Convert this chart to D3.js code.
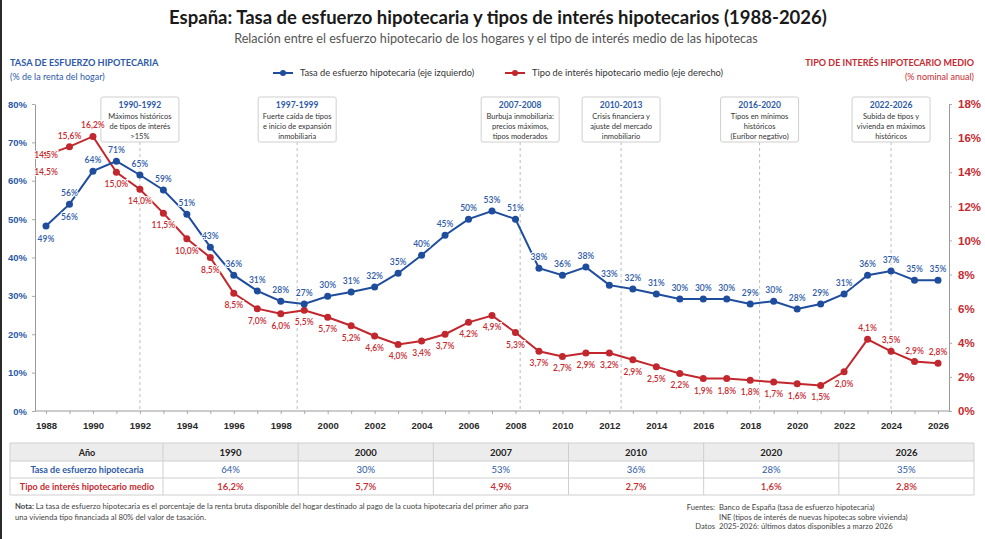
<!DOCTYPE html>
<html>
<head>
<meta charset="utf-8">
<script src="https://cdn.jsdelivr.net/npm/d3@7"></script>
<style>
  body { margin: 0; background: #fff; }
  svg { display: block; font-family: Lato, "Open Sans", sans-serif; }
</style>
</head>
<body>
<div id="chart"></div>
<script>
////////////////////////////////////////////////////////////////////////
// Data

const years = d3.range(1988, 2027);

// mortgage effort rate (% of household income), left axis
const effort = [48.2, 53.9, 62.5, 65.1, 61.5, 57.6, 51.3, 42.7, 35.4, 31.3,
                28.6, 27.9, 29.9, 31.0, 32.3, 35.9, 40.6, 45.8, 50.0, 52.1,
                50.0, 37.2, 35.4, 37.5, 32.8, 31.8, 30.5, 29.2, 29.2, 29.2,
                27.9, 28.6, 26.6, 27.9, 30.5, 35.4, 36.5, 34.1, 34.1];
const effortLabels = ["49%","56%","64%","71%","65%","59%","51%","43%","36%","31%",
                      "28%","27%","30%","31%","32%","35%","40%","45%","50%","53%",
                      "51%","38%","36%","38%","33%","32%","31%","30%","30%","30%",
                      "29%","30%","28%","29%","31%","36%","37%","35%","35%"];

// average mortgage interest rate (% nominal), right axis
const rate = [15.0, 15.5, 16.1, 14.0, 13.0, 11.6, 10.1, 9.0, 6.9, 6.0,
              5.7, 5.9, 5.5, 5.0, 4.4, 3.9, 4.1, 4.5, 5.2, 5.6,
              4.6, 3.5, 3.2, 3.4, 3.4, 3.0, 2.6, 2.2, 1.9, 1.9,
              1.8, 1.7, 1.6, 1.5, 2.3, 4.2, 3.5, 2.9, 2.8];
const rateLabels = ["14,5%","15,6%","16,2%","15,0%","14,0%","11,5%","10,0%","8,5%","8,5%","7,0%",
                    "6,0%","5,5%","5,7%","5,2%","4,6%","4,0%","3,4%","3,7%","4,2%","4,9%",
                    "5,3%","3,7%","2,7%","2,9%","3,2%","2,9%","2,5%","2,2%","1,9%","1,8%",
                    "1,8%","1,7%","1,6%","1,5%","2,0%","4,1%","3,5%","2,9%","2,8%"];

const leftTicks = [0, 10, 20, 30, 40, 50, 60, 70, 80];
const rightTicks = [0, 2, 4, 6, 8, 10, 12, 14, 16, 18];

// annotated periods
const eventPeriods = ["1990-1992", "1997-1999", "2007-2008", "2010-2013", "2016-2020", "2022-2026"];
const eventYears = [1992, 1998.7, 2008.2, 2012.5, 2018.4, 2024];
const eventTexts = [
  ["Máximos históricos", "de tipos de interés", ">15%"],
  ["Fuerte caída de tipos", "e inicio de expansión", "inmobiliaria"],
  ["Burbuja inmobiliaria:", "precios máximos,", "tipos moderados"],
  ["Crisis financiera y", "ajuste del mercado", "inmobiliario"],
  ["Tipos en mínimos", "históricos", "(Euríbor negativo)"],
  ["Subida de tipos y", "vivienda en máximos", "históricos"]
];

// summary table
const tableYears = ["1990", "2000", "2007", "2010", "2020", "2026"];
const tableEffort = ["64%", "30%", "53%", "36%", "28%", "35%"];
const tableRate = ["16,2%", "5,7%", "4,9%", "2,7%", "1,6%", "2,8%"];

////////////////////////////////////////////////////////////////////////
// Setup

const width = 985, height = 539;
const blue = "#1f4d9e", blueText = "#2d5aa8";
const red = "#c1272d", redText = "#c62a30";

let svg = d3.select("#chart").append("svg")
  .attr("width", width).attr("height", height);

svg.append("rect").attr("width", width).attr("height", height).attr("fill", "#fff");
svg.append("rect").attr("width", 2).attr("height", height).attr("fill", "#2a2a2a");

// titles
svg.append("text")
  .attr("x", 498).attr("y", 24)
  .attr("text-anchor", "middle")
  .attr("font-size", 18.5).attr("font-weight", 700).attr("fill", "#1a1a1a")
  .text("España: Tasa de esfuerzo hipotecaria y tipos de interés hipotecarios (1988-2026)");

svg.append("text")
  .attr("x", 496).attr("y", 43)
  .attr("text-anchor", "middle")
  .attr("font-size", 12.6).attr("fill", "#555")
  .text("Relación entre el esfuerzo hipotecario de los hogares y el tipo de interés medio de las hipotecas");

// axis titles
svg.append("text").attr("x", 10).attr("y", 66)
  .attr("font-size", 9.2).attr("font-weight", 700).attr("fill", blueText)
  .text("TASA DE ESFUERZO HIPOTECARIA");
svg.append("text").attr("x", 10).attr("y", 80)
  .attr("font-size", 9).attr("fill", blueText)
  .text("(% de la renta del hogar)");

svg.append("text").attr("x", 974).attr("y", 66).attr("text-anchor", "end")
  .attr("font-size", 9).attr("font-weight", 700).attr("fill", redText)
  .text("TIPO DE INTERÉS HIPOTECARIO MEDIO");
svg.append("text").attr("x", 974).attr("y", 80).attr("text-anchor", "end")
  .attr("font-size", 9).attr("fill", redText)
  .text("(% nominal anual)");

// legend
function legendItem(x0, color, label) {
  let g = svg.append("g").attr("transform", `translate(${x0}, 73)`);
  g.append("line").attr("x1", 0).attr("x2", 20).attr("stroke", color).attr("stroke-width", 2);
  g.append("circle").attr("cx", 10).attr("r", 3).attr("fill", color);
  g.append("text").attr("x", 27).attr("y", 3)
    .attr("font-size", 9.3).attr("fill", "#333").text(label);
}
legendItem(273, blue, "Tasa de esfuerzo hipotecaria (eje izquierdo)");
legendItem(505, red, "Tipo de interés hipotecario medio (eje derecho)");

////////////////////////////////////////////////////////////////////////
// Scales and axes

let xScale = d3.scaleLinear().domain([1988, 2026]).range([46, 938]);
let yLeft = d3.scaleLinear().domain([0, 80]).range([411, 104]);
let yRight = d3.scaleLinear().domain([0, 18]).range([411, 104]);

let leftAxis = svg.append("g")
  .attr("transform", "translate(35, 0)")
  .call(d3.axisLeft(yLeft).tickValues(leftTicks).tickFormat(d => d + "%")
          .tickSize(3).tickSizeOuter(0).tickPadding(5));
leftAxis.selectAll("text")
  .attr("font-size", 9.5).attr("font-weight", 700).attr("fill", blueText);

let rightAxis = svg.append("g")
  .attr("transform", "translate(949, 0)")
  .call(d3.axisRight(yRight).tickValues(rightTicks).tickFormat(d => d + "%")
          .tickSize(3).tickSizeOuter(0).tickPadding(6));
rightAxis.selectAll("text")
  .attr("font-size", 11.5).attr("font-weight", 600).attr("fill", redText);

let xAxis = svg.append("g")
  .attr("transform", "translate(0, 411)")
  .call(d3.axisBottom(xScale).tickValues(years)
          .tickFormat(d => d % 2 === 0 ? d : "")
          .tickSize(3).tickSizeOuter(0).tickPadding(8));
xAxis.select(".domain").remove();
xAxis.selectAll("text")
  .attr("font-size", 9.5).attr("font-weight", 700).attr("fill", "#2a2a2a");

svg.append("line")
  .attr("x1", 35).attr("x2", 949).attr("y1", 411).attr("y2", 411)
  .attr("stroke", "#999");

svg.selectAll(".domain").attr("stroke", "#999");
svg.selectAll(".tick line").attr("stroke", "#aaa");

////////////////////////////////////////////////////////////////////////
// Annotations (dashed guides + boxes)

let ann = svg.append("g");
eventPeriods.forEach((p, i) => {
  let cx = xScale(eventYears[i]);
  ann.append("line")
    .attr("x1", cx).attr("x2", cx).attr("y1", 142).attr("y2", 411)
    .attr("stroke", "#bdbdbd").attr("stroke-dasharray", "3,3");
  ann.append("rect")
    .attr("x", cx - 39).attr("y", 97).attr("width", 78).attr("height", 45)
    .attr("rx", 2).attr("fill", "#fff")
    .attr("stroke", "#cfcfcf");
  ann.append("text")
    .attr("x", cx).attr("y", 108).attr("text-anchor", "middle")
    .attr("font-size", 8.5).attr("font-weight", 700).attr("fill", blueText)
    .text(p);
  eventTexts[i].forEach((t, j) => {
    ann.append("text")
      .attr("x", cx).attr("y", 119 + j * 10).attr("text-anchor", "middle")
      .attr("font-size", 7.5).attr("fill", "#333")
      .text(t);
  });
});

////////////////////////////////////////////////////////////////////////
// Lines and points

function drawSeries(values, yScale, color) {
  let line = d3.line()
    .x((d, i) => xScale(years[i]))
    .y(d => yScale(d));
  svg.append("path")
    .datum(values)
    .attr("d", line)
    .attr("fill", "none")
    .attr("stroke", color)
    .attr("stroke-width", 2);
  svg.append("g")
    .selectAll("circle")
    .data(values)
    .enter()
    .append("circle")
    .attr("cx", (d, i) => xScale(years[i]))
    .attr("cy", d => yScale(d))
    .attr("r", 3.5)
    .attr("fill", color);
}

drawSeries(rate, yRight, red);
drawSeries(effort, yLeft, blue);

// value labels
function addLabel(x, y, text, color) {
  svg.append("text")
    .attr("x", x).attr("y", y)
    .attr("text-anchor", "middle")
    .attr("font-size", 8.5).attr("font-weight", 600)
    .attr("fill", color)
    .attr("stroke", "#fff").attr("stroke-width", 2).attr("paint-order", "stroke")
    .text(text);
}

effortLabels.forEach((t, i) => {
  let px = xScale(years[i]), py = yLeft(effort[i]);
  if (i === 0) {
    addLabel(px, py + 16, t, blueText);
  } else if (i === 1) {
    addLabel(px, py - 8, t, blueText);
    addLabel(px, py + 16, t, blueText);
  } else {
    addLabel(px, py - 8, t, blueText);
  }
});

rateLabels.forEach((t, i) => {
  let px = xScale(years[i]), py = yRight(rate[i]);
  if (i === 0) {
    addLabel(px, py + 3, t, redText);
    addLabel(px, py + 20, t, redText);
  } else if (i === 1 || i === 2 || i >= 35) {
    addLabel(px, py - 8, t, redText);
  } else {
    addLabel(px, py + 15, t, redText);
  }
});

////////////////////////////////////////////////////////////////////////
// Summary table

let table = svg.append("g");
let colScale = d3.scaleBand().domain(tableYears).range([163, 974]);
let rowTops = [443, 461, 478];
let rowH = [18, 17, 17];

table.append("rect")
  .attr("x", 10).attr("y", 443).attr("width", 964).attr("height", 18)
  .attr("fill", "#ececec");

// borders
[443, 461, 478, 495].forEach(y => {
  table.append("line").attr("x1", 10).attr("x2", 974).attr("y1", y).attr("y2", y)
    .attr("stroke", "#cfcfcf");
});
[10, 163].concat(tableYears.map(d => colScale(d) + colScale.bandwidth())).forEach(x => {
  table.append("line").attr("x1", x).attr("x2", x).attr("y1", 443).attr("y2", 495)
    .attr("stroke", "#cfcfcf");
});

let rowNames = ["Año", "Tasa de esfuerzo hipotecaria", "Tipo de interés hipotecario medio"];
let rowColors = ["#222", blueText, redText];
let rowValues = [tableYears, tableEffort, tableRate];
let rowWeights = [700, 400, 600];

rowNames.forEach((name, r) => {
  let by = rowTops[r] + rowH[r] / 2 + 3.5;
  table.append("text")
    .attr("x", 87).attr("y", by).attr("text-anchor", "middle")
    .attr("font-size", 9).attr("font-weight", 700).attr("fill", rowColors[r])
    .text(name);
  table.selectAll(null)
    .data(rowValues[r])
    .enter()
    .append("text")
    .attr("x", (d, i) => colScale(tableYears[i]) + colScale.bandwidth() / 2)
    .attr("y", by)
    .attr("text-anchor", "middle")
    .attr("font-size", 9.5).attr("font-weight", rowWeights[r]).attr("fill", rowColors[r])
    .text(d => d);
});

////////////////////////////////////////////////////////////////////////
// Footnotes

let note = svg.append("text").attr("x", 15).attr("y", 509)
  .attr("font-size", 7.7).attr("fill", "#444");
note.append("tspan").attr("font-weight", 700).text("Nota: ");
note.append("tspan").text("La tasa de esfuerzo hipotecaria es el porcentaje de la renta bruta disponible del hogar destinado al pago de la cuota hipotecaria del primer año para");
svg.append("text").attr("x", 15).attr("y", 520)
  .attr("font-size", 7.7).attr("fill", "#444")
  .text("una vivienda tipo financiada al 80% del valor de tasación.");

let srcLabels = ["Fuentes:", "", "Datos"];
let srcTexts = ["Banco de España (tasa de esfuerzo hipotecaria)",
                "INE (tipos de interés de nuevas hipotecas sobre vivienda)",
                "2025-2026: últimos datos disponibles a marzo 2026"];
srcTexts.forEach((t, i) => {
  svg.append("text").attr("x", 715).attr("y", 510 + i * 9.5).attr("text-anchor", "end")
    .attr("font-size", 7.6).attr("fill", "#444").text(srcLabels[i]);
  svg.append("text").attr("x", 719).attr("y", 510 + i * 9.5)
    .attr("font-size", 7.6).attr("fill", "#444").text(t);
});
</script>
</body>
</html>
